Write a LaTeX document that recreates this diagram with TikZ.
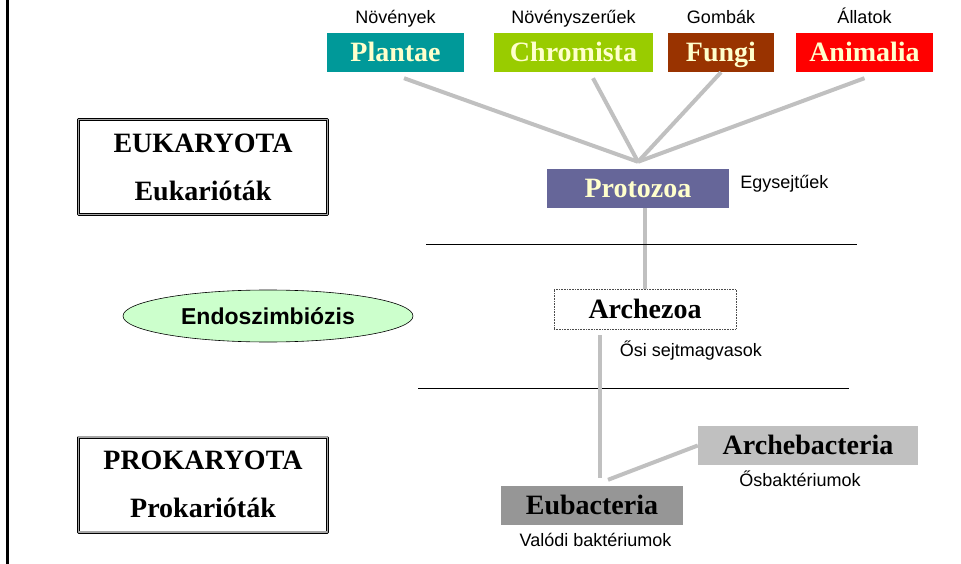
\documentclass[tikz,border=0pt]{standalone}
\usepackage{fontspec}
\setmainfont{Liberation Serif}
\setsansfont{Liberation Sans}
\usepackage{tikz}
\usetikzlibrary{
  calc,             % 坐标计算
  positioning,      % 节点相对定位
  shapes.geometric  % 椭圆节点
}

\definecolor{tealbox}{HTML}{009999}
\definecolor{limebox}{HTML}{99CC00}
\definecolor{brownbox}{HTML}{993300}
\definecolor{redbox}{HTML}{FF0000}
\definecolor{violetbox}{HTML}{666699}
\definecolor{lightgreybox}{HTML}{C0C0C0}
\definecolor{darkgreybox}{HTML}{969696}
\definecolor{paleyellow}{HTML}{FFFFCC}
\definecolor{palegreen}{HTML}{CCFFCC}
\definecolor{branchgrey}{HTML}{C0C0C0}

\begin{document}
\begin{tikzpicture}[x=1pt, y=-1pt, line join=round]
  % 统一设置：分类框、小标签、分支线
  \tikzset{
    taxon/.style={inner sep=0pt, minimum height=39pt,
      text height=25pt, text depth=6.5pt,
      font=\fontsize{28}{30}\selectfont\bfseries},
    kingdom/.style={taxon, fill=#1, text=paleyellow},
    hint/.style={inner sep=0pt, text height=13pt, text depth=4pt,
      font=\sffamily\fontsize{18}{20}\selectfont},
    domainbox/.style={draw=black, double=black!35, double distance=1.6pt,
      line width=0.7pt, minimum width=249pt, minimum height=95pt,
      align=center, font=\fontsize{28}{48}\selectfont\bfseries},
    branch/.style={draw=branchgrey, line width=4pt},
    divider/.style={draw=black, line width=0.9pt}
  }
  \useasboundingbox (0,0) rectangle (961,564);

  % 左侧竖线
  \draw[line width=2.5pt] (7.5,0) -- (7.5,564);

  % =======================
  % 上层：四个界
  % =======================
  \node[kingdom=tealbox,  minimum width=137pt] (plantae)   at (395.5,52.5) {Plantae};
  \node[kingdom=limebox,  minimum width=159pt] (chromista) at (573.5,52.5) {Chromista};
  \node[kingdom=brownbox, minimum width=106pt] (fungi)     at (721,52.5)   {Fungi};
  \node[kingdom=redbox,   minimum width=137pt] (animalia)  at (864.5,52.5) {Animalia};

  \node[hint, above=5pt of plantae]   {Növények};
  \node[hint, above=5pt of chromista] {Növényszerűek};
  \node[hint, above=5pt of fungi]     {Gombák};
  \node[hint, above=5pt of animalia]  {Állatok};

  % 单细胞
  \node[kingdom=violetbox, minimum width=182pt] (protozoa) at (638,188.5) {Protozoa};
  \node[hint, right=11pt of protozoa, yshift=4pt] {Egysejtűek};

  % 分支汇合点
  \coordinate (fork) at ($(protozoa.north)+(0,-7)$);
  \draw[branch] ($(plantae.south)+(8.5,6)$)   -- (fork);
  \draw[branch] ($(chromista.south)+(19.5,6)$) -- (fork);
  \draw[branch] (fungi.south)                  -- (fork);
  \draw[branch] ($(animalia.south)+(0,6)$)     -- (fork);

  % =======================
  % 中层：原始真核
  % =======================
  \node[taxon, draw=black!70, densely dotted, line width=0.6pt, fill=white,
        minimum width=182pt, minimum height=40pt] (archezoa) at (645,309) {};
  \node[taxon] at (archezoa) {Archezoa};
  \node[hint, anchor=base west] at ($(archezoa.south west)+(66,27)$) {Ősi sejtmagvasok};
  \draw[branch] (archezoa.north) -- (archezoa.north |- protozoa.south);

  % 分界线
  \draw[divider] (426,244) -- (857,244);
  \draw[divider] (418,388) -- (849,388);

  % =======================
  % 下层：原核
  % =======================
  \node[taxon, fill=lightgreybox, minimum width=220pt] (archebacteria) at (808,445.5) {Archebacteria};
  \node[hint, below=8pt of archebacteria, xshift=-8pt] {Ősbaktériumok};
  \node[taxon, fill=darkgreybox, minimum width=182pt] (eubacteria) at (592,505.5) {Eubacteria};
  \node[hint, below=8pt of eubacteria, xshift=3.5pt] {Valódi baktériumok};

  \coordinate (az) at ($(archezoa.south)+(-45,6)$);
  \coordinate (eb) at ($(eubacteria.north)+(8,-8)$);
  \draw[branch] (az) -- (eb);
  \draw[branch] (archebacteria.west) -- ($(eubacteria.north)+(16,-6)$);

  % =======================
  % 左侧：域与内共生
  % =======================
  \node[domainbox] (eukaryota)  at (203,167)   {EUKARYOTA\\Eukarióták};
  \node[domainbox] (prokaryota) at (203,484.5) {PROKARYOTA\\Prokarióták};
  \node[ellipse, draw=black, line width=0.6pt, fill=palegreen, inner sep=0pt,
        minimum width=290pt, minimum height=52pt,
        font=\sffamily\fontsize{23}{25}\selectfont\bfseries] (endo) at (268,316) {Endoszimbiózis};
\end{tikzpicture}
\end{document}
